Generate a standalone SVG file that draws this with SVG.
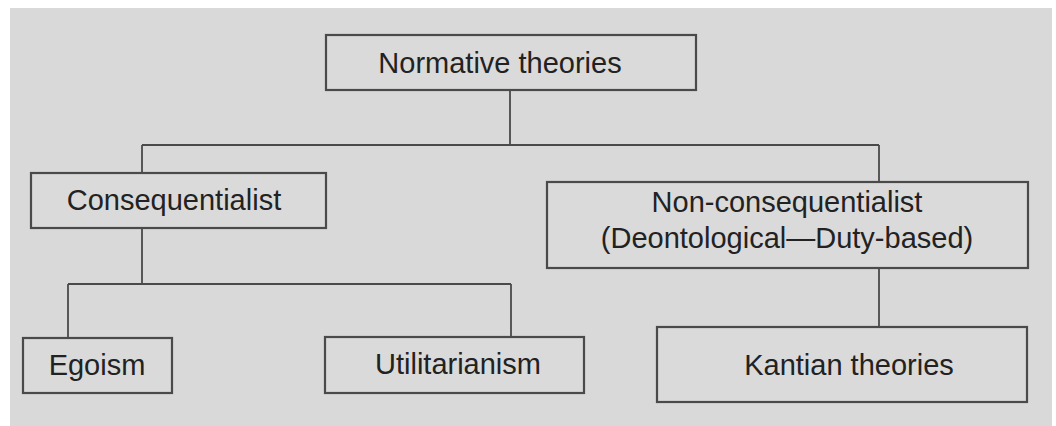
<svg xmlns="http://www.w3.org/2000/svg" width="1056" height="426" viewBox="0 0 1056 426">
<style>
.box{fill:#dadada;stroke:#4a4a4a;stroke-width:2.2}
.lbl{font-family:"Liberation Sans",Arial,sans-serif;font-size:29px;fill:#222;text-anchor:middle}
.conn{fill:none;stroke:#4a4a4a;stroke-width:1.8}
</style>
<rect x="0" y="0" width="1056" height="426" fill="#ffffff"/>
<rect x="10" y="8" width="1042" height="418" fill="#d9d9d9"/>
<g id="connectors">
<path class="conn" d="M510 90V145M142 145H879M142 145V173M879 145V182"/>
<path class="conn" d="M142 228V284M68 284H511M68 284V338M511 284V337"/>
<path class="conn" d="M879 268V327"/>
</g>
<g id="normative">
<rect class="box" x="326" y="35" width="370" height="55"/>
<text class="lbl" x="500" y="73">Normative theories</text>
</g>
<g id="consequentialist">
<rect class="box" x="31" y="173" width="295" height="55"/>
<text class="lbl" x="174" y="210">Consequentialist</text>
</g>
<g id="nonconsequentialist">
<rect class="box" x="547" y="182" width="481" height="86"/>
<text class="lbl" x="787" y="212">Non-consequentialist</text>
<text class="lbl" x="787" y="248">(Deontological—Duty-based)</text>
</g>
<g id="egoism">
<rect class="box" x="23" y="338" width="149" height="55"/>
<text class="lbl" x="97" y="375">Egoism</text>
</g>
<g id="utilitarianism">
<rect class="box" x="325" y="337" width="259" height="56"/>
<text class="lbl" x="458" y="374">Utilitarianism</text>
</g>
<g id="kantian">
<rect class="box" x="657" y="327" width="370" height="75"/>
<text class="lbl" x="849" y="375">Kantian theories</text>
</g>
</svg>
